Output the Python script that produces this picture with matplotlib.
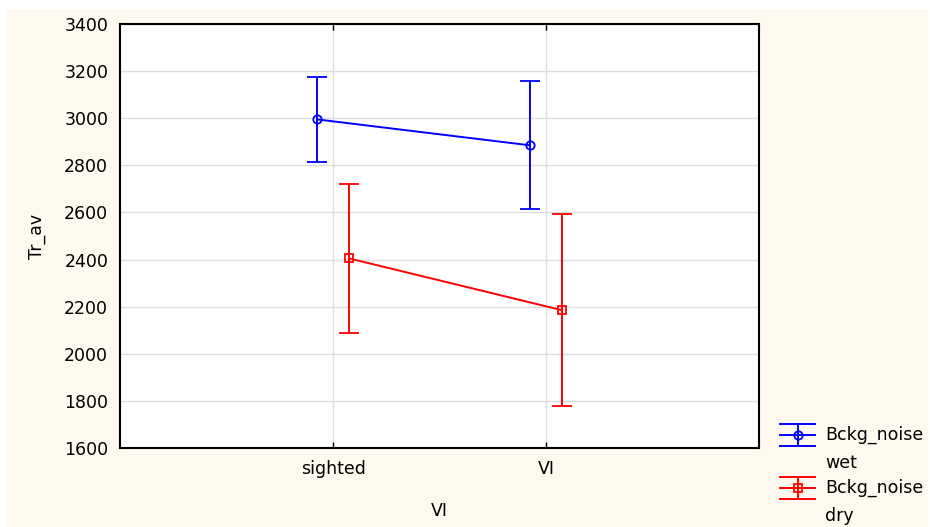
import matplotlib.pyplot as plt
import numpy as np
from matplotlib.patches import Rectangle
from matplotlib.lines import Line2D

plt.rcParams['font.family'] = ['DejaVu Sans']

# group means and error-bar limits read per condition
groups = ['sighted', 'VI']
wet_mean = [2995, 2885]
wet_low = [2815, 2615]
wet_high = [3175, 3160]
dry_mean = [2405, 2185]
dry_low = [2090, 1780]
dry_high = [2720, 2595]
series_labels = [('Bckg_noise', 'wet'), ('Bckg_noise', 'dry')]
colors = ['#0000ff', '#ff0000']
markers = ['o', 's']

W, H = 930, 527
fs = 12.5

fig = plt.figure(figsize=(W / 100, H / 100), dpi=100, facecolor='white')
fig.patches.append(Rectangle((7 / W, 0), 1 - 9 / W, 1 - 9 / H,
                             transform=fig.transFigure, facecolor='#fdf9ee',
                             edgecolor='none', zorder=-10))
ax = fig.add_axes([120 / W, 1 - 448 / H, (759 - 120) / W, (448 - 24) / H])
ax.set_facecolor('white')

x = np.arange(1, len(groups) + 1)
off = 0.075


def draw(xpos, mean, low, high, color, marker):
    mean = np.array(mean)
    err = [mean - np.array(low), np.array(high) - mean]
    ax.errorbar(xpos, mean, yerr=err, color=color, marker=marker,
                markersize=6, markerfacecolor='none', markeredgewidth=1.3,
                linewidth=1.4, elinewidth=1.4, capsize=7.5, capthick=1.4,
                zorder=3)


draw(x - off, wet_mean, wet_low, wet_high, colors[0], markers[0])
draw(x + off, dry_mean, dry_low, dry_high, colors[1], markers[1])

ax.set_xlim(0, 3)
ax.set_ylim(1600, 3400)
ax.set_xticks(x)
ax.set_xticklabels(groups)
ax.set_yticks(np.arange(1600, 3401, 200))
ax.grid(True, color='#dddddd', linewidth=1)
ax.set_axisbelow(True)
for s in ax.spines.values():
    s.set_linewidth(1.5)
    s.set_color('black')
ax.tick_params(axis='x', direction='in', length=4, width=1, labelsize=fs,
               top=True, pad=9)
ax.tick_params(axis='y', length=0, pad=8.5, labelsize=fs)

ax.set_ylabel('Tr_av', fontsize=fs, labelpad=13)
ax.set_xlabel('VI', fontsize=fs, labelpad=17)

# legend built by hand: error-bar glyph next to a two-line label
def px(xp, yp):
    return xp / W, 1 - yp / H

for i, (c, m, (l1, l2)) in enumerate(zip(colors, markers, series_labels)):
    yc = 435 + i * 53
    for dy in (-11, 0, 11):
        fig.add_artist(Line2D([780 / W, 815 / W], [px(0, yc + dy)[1]] * 2,
                              color=c, linewidth=1.4))
    fig.add_artist(Line2D([797.5 / W] * 2, [px(0, yc - 11)[1], px(0, yc + 11)[1]],
                          color=c, linewidth=1.4))
    fig.add_artist(Line2D([797.5 / W], [px(0, yc)[1]], color=c, marker=m,
                          markersize=6, markerfacecolor='none', markeredgewidth=1.3))
    fig.text(*px(825, yc), l1, fontsize=fs, va='center', ha='left')
    fig.text(*px(825, yc + 28), l2, fontsize=fs, va='center', ha='left')

fig.savefig('out.png', dpi=100)
